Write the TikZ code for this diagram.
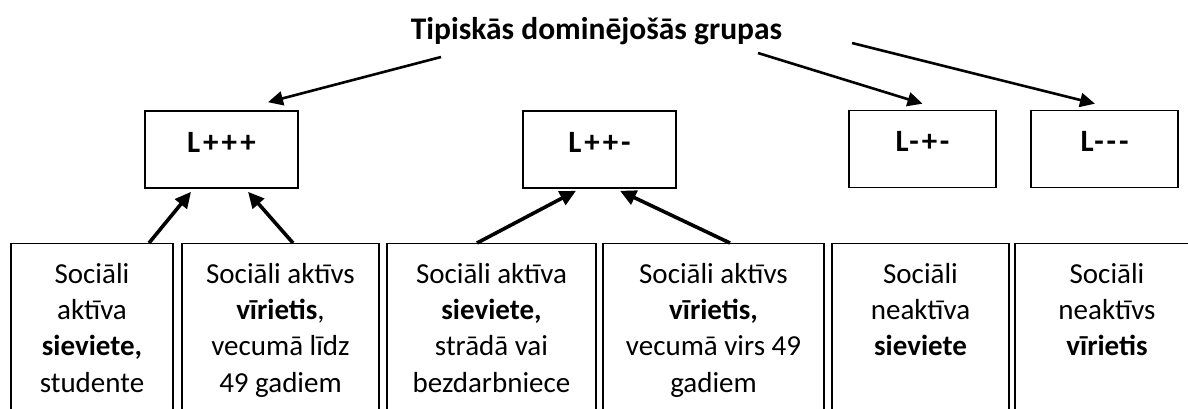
\documentclass[tikz,border=0pt]{standalone}
\usepackage{fontspec}
\setmainfont{Carlito}
\usetikzlibrary{arrows.meta,calc}
\begin{document}
\begin{tikzpicture}[x=1pt,y=-1pt,
  midbox/.style={draw,line width=1.6pt,minimum height=77pt,inner sep=0pt,
    font=\fontsize{31}{36}\selectfont\bfseries\addfontfeatures{LetterSpace=9},text height=19pt,text depth=14pt},
  lowbox/.style={draw,line width=1.4pt,minimum height=200pt,anchor=north,inner sep=0pt},
  lowtext/.style={anchor=north,align=center,inner sep=0pt,font=\fontsize{29}{36.3}\selectfont},
  toparr/.style={line width=2.6pt,-{Triangle[length=15pt,width=14pt]}},
  botarr/.style={line width=3.6pt,-{Triangle[length=16pt,width=15pt]}}]
\useasboundingbox (0,0) rectangle (1188,408);
\clip (0,0) rectangle (1188,408);
\fill[white] (0,0) rectangle (1188,408);
% title
\node[anchor=base,inner sep=0pt,font=\fontsize{31.5}{36}\selectfont\bfseries] (title) at (596.5,39) {Tipiskās dominējošās grupas};
% middle boxes
\node[midbox,minimum width=153pt] (m1) at (221.5,149.5) {L+++};
\node[midbox,minimum width=153pt] (m2) at (599.5,149.5) {L++-};
\node[midbox,minimum width=147pt] (m3) at (922.5,149) {L-+-};
\node[midbox,minimum width=147pt] (m4) at (1104.5,149) {L{-}{-}{-}};
% lower boxes
\node[lowbox,minimum width=162pt] (b1) at (92,243) {};
\node[lowbox,minimum width=197pt] (b2) at (280.5,243) {};
\node[lowbox,minimum width=209pt] (b3) at (491.5,243) {};
\node[lowbox,minimum width=221pt] (b4) at (713.5,243) {};
\node[lowbox,minimum width=177pt] (b5) at (920.5,243) {};
\node[lowbox,minimum width=184pt] (b6) at (1107,243) {};
\node[lowtext] (t1) at ($(b1.north)+(0,14.6)$) {\strut Sociāli\\aktīva\\\textbf{sieviete,}\\studente};
\node[lowtext] (t2) at ($(b2.north)+(0,14.6)$) {\strut Sociāli aktīvs\\\textbf{vīrietis},\\vecumā līdz\\49 gadiem};
\node[lowtext] (t3) at ($(b3.north)+(0,14.6)$) {\strut Sociāli aktīva\\\textbf{sieviete,}\\strādā vai\\bezdarbniece};
\node[lowtext] (t4) at ($(b4.north)+(0,14.6)$) {\strut Sociāli aktīvs\\\textbf{vīrietis,}\\vecumā virs 49\\gadiem};
\node[lowtext] (t5) at ($(b5.north)+(0,14.6)$) {\strut Sociāli\\neaktīva\\\textbf{sieviete}};
\node[lowtext] (t6) at ($(b6.north)+(0,14.6)$) {\strut Sociāli\\neaktīvs\\\textbf{vīrietis}};
% arrows from title
\draw[toparr] ($(title.base)+(-155.5,18)$) -- ($(m1.north)+(46.5,-8)$);
\draw[toparr] ($(title.base)+(161.5,14)$) -- ($(m3.north)+(0,-6)$);
\draw[toparr] ($(title.base)+(255.5,4)$) -- ($(m4.north)+(-9.5,-6)$);
% arrows from lower boxes
\draw[botarr] ($(b1.north)+(57,0)$) -- ($(m1.south)+(-30.5,3)$);
\draw[botarr] ($(b2.north)+(12.5,0)$) -- ($(m1.south)+(26.5,3)$);
\draw[botarr] ($(b3.north)+(-14.5,0)$) -- ($(m2.south)+(-23.5,2)$);
\draw[botarr] ($(b4.north)+(16.5,0)$) -- ($(m2.south)+(20.5,2)$);
\end{tikzpicture}
\end{document}
